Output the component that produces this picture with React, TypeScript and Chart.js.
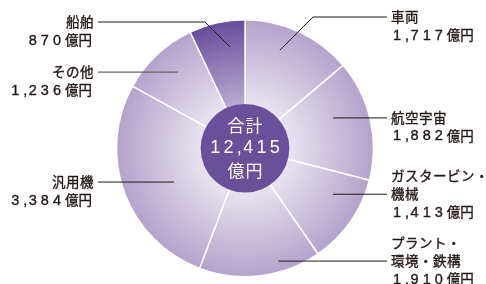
import { useEffect, useRef } from "react";
import { Chart, registerables } from "chart.js";

Chart.register(...registerables);

// ---- data ----
const categories = ["車両", "航空宇宙", "ガスタービン・機械", "プラント・環境・鉄構", "汎用機", "その他", "船舶"];
const values = [1717, 1882, 1413, 1910, 3384, 1236, 870];
const valueLabels = ["1,717", "1,882", "1,413", "1,910", "3,384", "1,236", "870"];
const nameLines = [["車両"], ["航空宇宙"], ["ガスタービン・", "機械"], ["プラント・", "環境・鉄構"], ["汎用機"], ["その他"], ["船舶"]];
const unit = "億円";
const totalTitle = "合計";
const totalLabel = "12,415";

// ---- styles ----
const innerColors = ["#ebe7f2", "#ebe7f2", "#ebe7f2", "#ebe7f2", "#ebe7f2", "#ebe7f2", "#bdb1d6"];
const outerColors = ["#b3a2cb", "#b3a2cb", "#b3a2cb", "#b3a2cb", "#b3a2cb", "#b3a2cb", "#674b99"];
const centerColor = "#6a4f9b";
const textColor = "#231815";
const FONT = '"Noto Sans CJK JP", "Noto Sans", sans-serif';
const NUM_FONT = '"Liberation Sans", "Noto Sans CJK JP", sans-serif';
const DIGIT_SP = 4.0;
const COMMA_SP = 1.5;

// label layout: anchor angle offset from slice mid (deg), anchor radius fraction,
// side, optional elbow, row of name where the line meets
const labelLayout = [
  { side: "R", dAng: -5.3, rf: 0.81, elbow: { x: 313, y: 17 }, row: 0, lineColor: textColor, lw: 1 },
  { side: "R", dAng: -6.1, rf: 0.725, elbow: null, row: 0, lineColor: textColor, lw: 1 },
  { side: "R", dAng: -7.3, rf: 0.773, elbow: null, row: 1, lineColor: textColor, lw: 1 },
  { side: "R", dAng: -9.4, rf: 0.915, elbow: null, row: 1, lineColor: textColor, lw: 1 },
  { side: "L", dAng: -5.3, rf: 0.612, elbow: null, row: 0, lineColor: textColor, lw: 1 },
  { side: "L", dAng: 1.7, rf: 0.79, elbow: null, row: 0, lineColor: "#666666", lw: 1.4 },
  { side: "L", dAng: 4.2, rf: 0.797, elbow: { x: 205, y: 22 }, row: 0, lineColor: textColor, lw: 1 },
];
const rightTextX = 391;
const rightLineEnd = 387;
const leftTextX = 94;
const leftLineEnd = 98;
const rowH = 18;

function fillThick(ctx: CanvasRenderingContext2D, t: string, x: number, y: number) {
  ctx.fillText(t, x, y);
  ctx.strokeText(t, x, y);
}

function spacedWidth(ctx: CanvasRenderingContext2D, t: string, dS: number, cS: number) {
  let w = 0;
  for (const ch of t) w += ctx.measureText(ch).width + (ch === "," ? cS : dS);
  return w;
}
function drawSpaced(ctx: CanvasRenderingContext2D, t: string, x: number, y: number, dS: number, cS: number, thick: boolean) {
  let cx = x;
  for (const ch of t) {
    if (thick) fillThick(ctx, ch, cx, y);
    else ctx.fillText(ch, cx, y);
    cx += ctx.measureText(ch).width + (ch === "," ? cS : dS);
  }
  return cx - x;
}

function drawValue(ctx: CanvasRenderingContext2D, num: string, x: number, y: number, align: "left" | "right") {
  ctx.textAlign = "left";
  ctx.font = `14.5px ${NUM_FONT}`;
  const w1 = spacedWidth(ctx, num, DIGIT_SP, COMMA_SP);
  ctx.font = `13.5px ${FONT}`;
  const w2 = ctx.measureText(unit).width;
  const start = align === "left" ? x : x - (w1 + w2);
  ctx.font = `14.5px ${NUM_FONT}`;
  drawSpaced(ctx, num, start, y + 0.5, DIGIT_SP, COMMA_SP, true);
  ctx.font = `13.5px ${FONT}`;
  fillThick(ctx, unit, start + w1, y);
}

const overlayPlugin = {
  id: "overlay",
  afterDatasetsDraw(chart: any) {
    const ctx: CanvasRenderingContext2D = chart.ctx;
    const meta = chart.getDatasetMeta(0);
    const arcs = meta.data;
    if (!arcs.length) return;
    const cx = arcs[0].x;
    const cy = arcs[0].y;
    const R = arcs[0].outerRadius;
    ctx.save();
    // center circle
    ctx.beginPath();
    ctx.arc(cx, cy, R * 0.345, 0, Math.PI * 2);
    ctx.fillStyle = centerColor;
    ctx.fill();
    ctx.fillStyle = "#ffffff";
    ctx.textBaseline = "middle";
    ctx.textAlign = "center";
    ctx.font = `17px ${FONT}`;
    (ctx as any).letterSpacing = "1px";
    ctx.fillText(totalTitle, cx + 0.5, cy - 23);
    ctx.fillText(unit, cx + 0.5, cy + 22);
    (ctx as any).letterSpacing = "0px";
    ctx.font = `18px ${NUM_FONT}`;
    ctx.textAlign = "left";
    const tw = spacedWidth(ctx, totalLabel, 3.2, 1.5) - 3.2;
    drawSpaced(ctx, totalLabel, cx - tw / 2, cy, 3.2, 1.5, false);

    // leader lines and labels
    arcs.forEach((arc: any, i: number) => {
      const lay = labelLayout[i];
      const mid = (arc.startAngle + arc.endAngle) / 2 + (lay.dAng * Math.PI) / 180;
      const ax = cx + Math.cos(mid) * R * lay.rf;
      const ay = cy + Math.sin(mid) * R * lay.rf;
      const lineY = lay.elbow ? lay.elbow.y : ay;
      const endX = lay.side === "R" ? rightLineEnd : leftLineEnd;
      ctx.beginPath();
      ctx.moveTo(ax, ay);
      if (lay.elbow) ctx.lineTo(lay.elbow.x, lay.elbow.y);
      ctx.lineTo(endX, lineY);
      ctx.strokeStyle = lay.lineColor;
      ctx.lineWidth = lay.lw;
      ctx.stroke();

      ctx.fillStyle = textColor;
      ctx.strokeStyle = textColor;
      ctx.lineWidth = 0.35;
      ctx.font = `13.5px ${FONT}`;
      ctx.textBaseline = "middle";
      const names = nameLines[i];
      const tx = lay.side === "R" ? rightTextX : leftTextX;
      names.forEach((n, k) => {
        ctx.textAlign = lay.side === "R" ? "left" : "right";
        (ctx as any).letterSpacing = "0.5px";
        fillThick(ctx, n, tx, lineY + (k - lay.row) * rowH);
      });
      (ctx as any).letterSpacing = "0px";
      const vy = lineY + (names.length - lay.row) * rowH;
      drawValue(ctx, valueLabels[i], lay.side === "R" ? tx + 2 : tx - 2, vy, lay.side === "R" ? "left" : "right");
    });
    ctx.restore();
  },
};

export default function App() {
  const ref = useRef<HTMLCanvasElement>(null);
  useEffect(() => {
    document.body.style.margin = "0";
    const canvas = ref.current!;
    const chart = new Chart(canvas, {
      type: "pie",
      data: {
        labels: categories,
        datasets: [
          {
            data: values,
            backgroundColor: (c: any) => {
              const ch = c.chart;
              const a = ch.chartArea;
              const i = c.dataIndex ?? 0;
              if (!a) return outerColors[i];
              const x = (a.left + a.right) / 2;
              const y = (a.top + a.bottom) / 2;
              const r = Math.min(a.right - a.left, a.bottom - a.top) / 2;
              const g = ch.ctx.createRadialGradient(x, y, r * 0.3, x, y, r);
              g.addColorStop(0, innerColors[i]);
              g.addColorStop(1, outerColors[i]);
              return g;
            },
            borderColor: "#ffffff",
            borderWidth: 1.5,
            hoverOffset: 0,
          },
        ],
      },
      options: {
        responsive: false,
        animation: false,
        events: [],
        layout: { padding: { top: 19, bottom: 6.5, left: 115, right: 111 } },
        plugins: { legend: { display: false }, tooltip: { enabled: false } },
      },
      plugins: [overlayPlugin],
    });
    return () => chart.destroy();
  }, []);
  return (
    <div style={{ width: 486, height: 284 }}>
      <canvas ref={ref} width={486} height={284} style={{ width: 486, height: 284, display: "block" }} />
    </div>
  );
}
